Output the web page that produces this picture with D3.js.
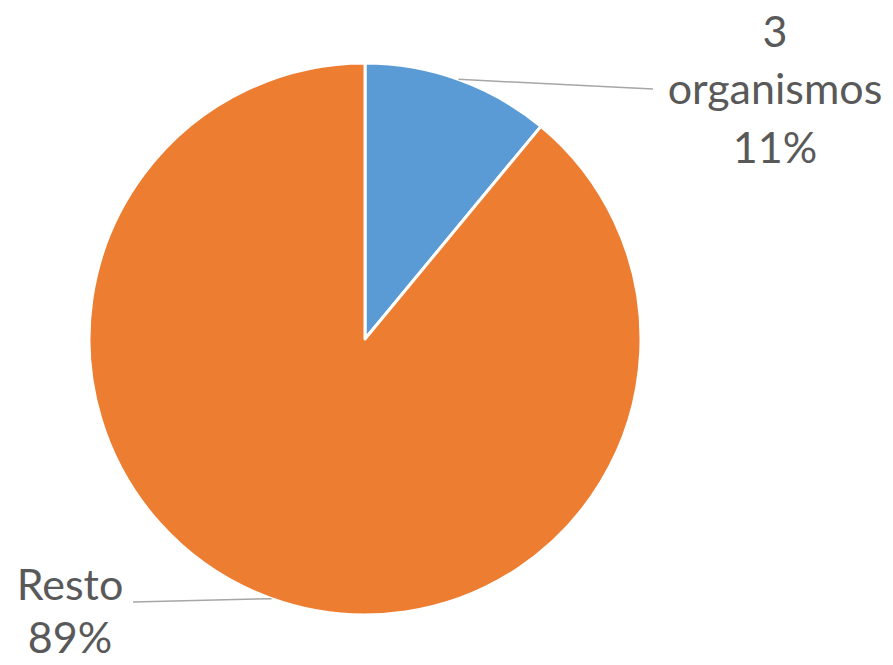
<!DOCTYPE html>
<html>
<head>
<meta charset="utf-8">
<script src="https://cdn.jsdelivr.net/npm/d3@7"></script>
<style>
  html, body { margin: 0; padding: 0; background: #fff; }
  svg { display: block; }
</style>
</head>
<body>
<div id="chart"></div>
<script>

// data
var labels = ["3 organismos", "Resto"];
var values = [11, 89];
var colors = ["#5B9BD5", "#ED7D31"];

var W = 893, H = 665;
var cx = 365, cy = 339, radius = 276;

var svg = d3.select("#chart").append("svg")
    .attr("width", W)
    .attr("height", H);

var g = svg.append("g")
    .attr("transform", "translate(" + cx + "," + cy + ")");

var pie = d3.pie().sort(null).value(function(d){ return d; });
var arcs = pie(values);

var arc = d3.arc().innerRadius(0).outerRadius(radius);

g.selectAll("path.slice")
  .data(arcs)
  .enter().append("path")
    .attr("class", "slice")
    .attr("d", arc)
    .attr("fill", function(d, i){ return colors[i]; })
    .attr("stroke", "#fff")
    .attr("stroke-width", 3)
    .attr("stroke-linejoin", "round");

// label placement (excel-ish, outside the pie)
var labelPos = [
  {x: 410, lines: [-292, -235, -176], anchor: [288, -250]},
  {x: -295, lines: [261, 314], anchor: [-232, 263]}
];

var fmt = function(v){
  var tot = d3.sum(values);
  return Math.round(v / tot * 100) + "%";
};

arcs.forEach(function(d, i){
  var a = (d.startAngle + d.endAngle) / 2;
  var sx = radius * Math.sin(a), sy = -radius * Math.cos(a);
  var lp = labelPos[i];

  g.append("line")
    .attr("x1", sx).attr("y1", sy)
    .attr("x2", lp.anchor[0]).attr("y2", lp.anchor[1])
    .attr("stroke", "#a6a6a6")
    .attr("stroke-width", 1.5);

  var words = labels[i].split(" ");
  words.push(fmt(values[i]));
  var txt = g.append("text")
    .attr("text-anchor", "middle")
    .attr("fill", "#595959")
    .style("font-family", "Lato, 'Open Sans', sans-serif")
    .style("font-size", "43px");
  words.forEach(function(w, j){
    txt.append("tspan")
      .attr("x", lp.x)
      .attr("y", lp.lines[j])
      .text(w);
  });
});

</script>
</body>
</html>
